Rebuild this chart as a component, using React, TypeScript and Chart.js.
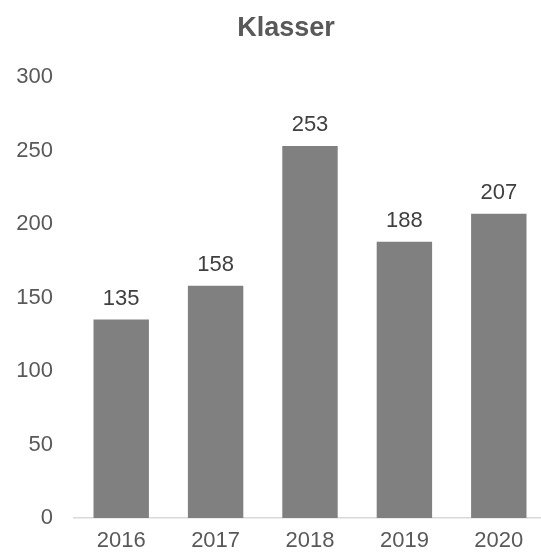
import React, { useEffect, useRef } from "react";
import { Chart, registerables } from "chart.js";

Chart.register(...registerables);

const categories = ["2016", "2017", "2018", "2019", "2020"];
const values = [135, 158, 253, 188, 207];
const chartTitle = "Klasser";

const FONT = "'Liberation Sans', Arial, Helvetica, sans-serif";

const valueLabels = {
  id: "valueLabels",
  afterDatasetsDraw(chart: any) {
    const ctx = chart.ctx;
    const meta = chart.getDatasetMeta(0);
    ctx.save();
    ctx.font = `22px ${FONT}`;
    ctx.fillStyle = "#404040";
    ctx.textAlign = "center";
    ctx.textBaseline = "alphabetic";
    meta.data.forEach((bar: any, i: number) => {
      ctx.fillText(String(values[i]), bar.x, bar.y - 15);
    });
    ctx.restore();
  },
};

const titleText = {
  id: "titleText",
  afterDraw(chart: any) {
    const ctx = chart.ctx;
    ctx.save();
    ctx.font = `bold 27px ${FONT}`;
    ctx.fillStyle = "#595959";
    ctx.textAlign = "center";
    ctx.textBaseline = "alphabetic";
    ctx.fillText(chartTitle, 286, 36);
    ctx.restore();
  },
};

export default function App() {
  const ref = useRef<HTMLCanvasElement | null>(null);
  useEffect(() => {
    if (!ref.current) return;
    const chart = new Chart(ref.current, {
      type: "bar",
      data: {
        labels: categories,
        datasets: [
          {
            data: values,
            backgroundColor: "#808080",
            borderWidth: 0,
            categoryPercentage: 1,
            barPercentage: 0.587,
          },
        ],
      },
      options: {
        animation: false,
        responsive: false,
        maintainAspectRatio: false,
        layout: { padding: { left: 0, right: 0, top: 77, bottom: 0 } },
        plugins: {
          legend: { display: false },
          tooltip: { enabled: false },
          title: { display: false },
        },
        scales: {
          x: {
            grid: { display: false },
            border: { display: true, color: "#d9d9d9", width: 1.5 },
            ticks: {
              color: "#595959",
              font: { family: FONT, size: 22 },
              padding: 2,
            },
            afterFit(scale: any) {
              scale.height = 36;
            },
          },
          y: {
            min: 0,
            max: 300,
            grid: { display: false },
            border: { display: false },
            ticks: {
              stepSize: 50,
              color: "#595959",
              font: { family: FONT, size: 22 },
              padding: 13,
            },
            afterFit(scale: any) {
              scale.width = 74;
            },
          },
        },
      },
      plugins: [valueLabels, titleText],
    });
    return () => chart.destroy();
  }, []);
  return (
    <div style={{ position: "fixed", left: 0, top: 0, width: 541, height: 554, background: "#fff", overflow: "hidden" }}>
      <canvas ref={ref} width={546} height={554} style={{ width: 546, height: 554, display: "block" }} />
    </div>
  );
}
